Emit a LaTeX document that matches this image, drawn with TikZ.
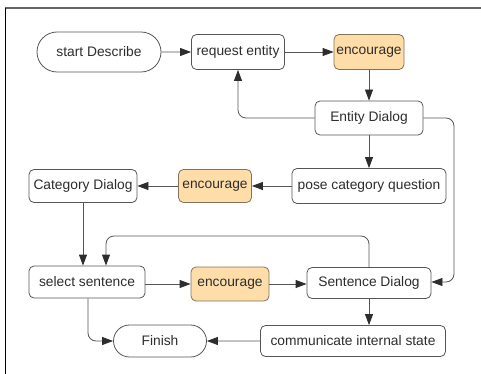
\documentclass[tikz,border=0pt]{standalone}
\usepackage{fontspec}
\setmainfont{Liberation Sans}
\usetikzlibrary{arrows.meta,shapes.misc}
\definecolor{enc}{RGB}{255,221,168}
\definecolor{encb}{RGB}{130,115,90}
\definecolor{ln}{RGB}{85,85,85}
\definecolor{tx}{RGB}{45,45,45}
\tikzset{
  x=1pt,y=-1pt,
  every node/.style={font=\fontsize{13.8}{15}\selectfont,text=tx,inner sep=0pt},
  boxn/.style={draw=ln,line width=0.8pt,rounded corners=5pt,fill=white},
  encn/.style={draw=encb,line width=0.8pt,rounded corners=5pt,fill=enc},
  termn/.style={draw=ln,line width=0.8pt,rounded rectangle,fill=white},
  conn/.style={draw=ln,line width=0.8pt,-{Triangle[length=11pt,width=8pt,color=tx]},rounded corners=8pt},
}
\begin{document}
\begin{tikzpicture}
\useasboundingbox (0,0) rectangle (481,374);
\draw[gray!80!black,line width=1.2pt] (481,8) -- (5,8);
\draw[black,line width=1pt] (5,8) -- (5,374);

\node[termn,minimum width=124pt,minimum height=40pt] (start) at (99,52) {start Describe};
\node[boxn,minimum width=93pt,minimum height=35pt] (req) at (238,52) {request entity};
\node[encn,minimum width=70pt,minimum height=35pt] (enc1) at (369,52) {encourage};
\node[boxn,minimum width=108pt,minimum height=34pt] (ent) at (369,118) {Entity Dialog};
\node[boxn,minimum width=154pt,minimum height=35pt] (pose) at (369,186) {pose category question};
\node[encn,minimum width=73pt,minimum height=33pt] (enc2) at (215,186) {encourage};
\node[boxn,minimum width=108pt,minimum height=33pt] (cat) at (83,186) {Category Dialog};
\node[boxn,minimum width=116pt,minimum height=32pt] (sel) at (87,282) {select sentence};
\node[encn,minimum width=78pt,minimum height=34pt] (enc3) at (230,284) {encourage};
\node[boxn,minimum width=124pt,minimum height=31pt] (sent) at (369,283) {Sentence Dialog};
\node[boxn,minimum width=185pt,minimum height=31pt] (comm) at (353,341) {communicate internal state};
\node[termn,minimum width=93pt,minimum height=32pt] (fin) at (160,341) {Finish};

\coordinate (c1) at (238,118);
\coordinate (c2) at (454,118);
\coordinate (c3) at (454,282);
\coordinate (c4) at (369,236);
\coordinate (c5) at (106,236);
\coordinate (c6) at (88,341);

\draw[conn] (start) -- (req);
\draw[conn] (req) -- (enc1);
\draw[conn] (enc1) -- (ent);
\draw[conn] (ent.west) -- (c1) -- (req.south);
\draw[conn] (ent.east) -- (c2) -- (c3) -- (sent.east |- c3);
\draw[conn] (ent) -- (pose);
\draw[conn] (pose) -- (enc2);
\draw[conn] (enc2) -- (cat);
\draw[conn] (cat.south) -- (sel.north -| cat.south);
\draw[conn] (sent.north) -- (c4) -- (c5) -- (sel.north -| c5);
\draw[conn] (sel.east |- enc3) -- (enc3);
\draw[conn] (enc3) -- (sent.west |- enc3);
\draw[conn] (sent) -- (sent |- comm.north);
\draw[conn] (comm) -- (fin);
\draw[conn] (sel.south -| c6) -- (c6) -- (fin.west);
\end{tikzpicture}
\end{document}
